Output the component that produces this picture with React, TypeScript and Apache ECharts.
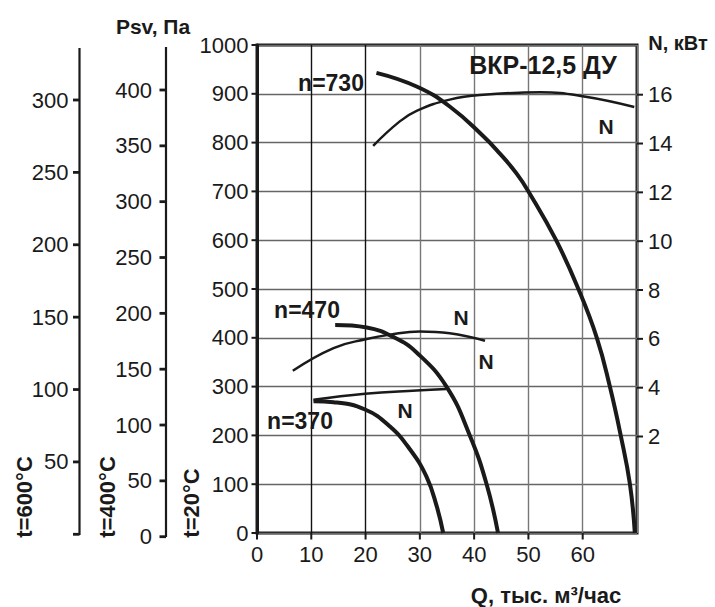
import React, { useEffect, useRef } from "react";
import * as echarts from "echarts";

const FONT = "'Liberation Sans', Arial, sans-serif";

// Axis ranges / tick values
const qMin = 0;
const qMax = 70;
const qTicks = [0, 10, 20, 30, 40, 50, 60];
const pTicks = [0, 100, 200, 300, 400, 500, 600, 700, 800, 900, 1000];
const t400Ticks = [0, 50, 100, 150, 200, 250, 300, 350, 400];
const t600Ticks = [0, 50, 100, 150, 200, 250, 300];
const nTicks = [2, 4, 6, 8, 10, 12, 14, 16];

// n=730 pressure curve
const n730Q = [22.0, 29.4, 35.5, 41.7, 44.7, 47.8, 50.0, 55.1, 59.2, 62.6, 65.0, 67.0, 68.7, 69.6];
const n730P = [943, 915, 874, 813, 778, 737, 700, 600, 500, 400, 300, 200, 100, 0];
// n=730 power curve
const n730NQ = [21.4, 26.3, 29.4, 35.5, 41.7, 52.2, 60.0, 69.5];
const n730N = [13.87, 14.87, 15.3, 15.76, 15.96, 16.06, 15.9, 15.46];

// n=470
const n470Q = [14.4, 20.2, 25.4, 29.4, 34.9, 39.2, 42.3, 44.4];
const n470P = [426, 421, 400, 370, 300, 200, 100, 0];
const n470NQ = [6.6, 14.1, 20.2, 24.5, 30.0, 35.5, 42.0];
const n470N = [4.65, 5.58, 5.95, 6.13, 6.26, 6.19, 5.88];

// n=370
const n370Q = [10.4, 14.1, 19.9, 24.5, 28.2, 31.2, 33.1, 34.3];
const n370P = [270, 268, 253, 218, 171, 116, 55, 0];
const n370NQ = [10.4, 19.9, 29.4, 34.9];
const n370N = [3.46, 3.71, 3.84, 3.9];

const zip = (a: number[], b: number[]) => a.map((v, i) => [v, b[i]]);

const INK = "#1a1a1a";

function lineSeries(data: number[][], yAxisIndex: number, width: number) {
  return {
    type: "line",
    data,
    xAxisIndex: 0,
    yAxisIndex,
    symbol: "none",
    smooth: 0.45,
    lineStyle: { color: INK, width, cap: "butt" },
    silent: true,
  };
}

function boldText(text: string, x: number, y: number, size: number, rotation = 0) {
  return {
    type: "text",
    x,
    y,
    rotation,
    style: {
      text,
      align: "center",
      verticalAlign: "middle",
      font: `bold ${size}px ${FONT}`,
      fill: INK,
    },
    z: 100,
  };
}

function seg(x1: number, y1: number, x2: number, y2: number, w: number) {
  return {
    type: "line",
    shape: { x1, y1, x2, y2 },
    style: { stroke: INK, lineWidth: w },
    z: 50,
  };
}

export default function App() {
  const ref = useRef<HTMLDivElement>(null);
  useEffect(() => {
    const chart = echarts.init(ref.current!, null, { renderer: "svg" });
    const labelStyle = { fontSize: 22, color: INK, fontFamily: FONT };
    const hidden = (gridIndex: number) => ({
      type: "value",
      gridIndex,
      min: 0,
      max: 1,
      show: false,
      splitLine: { show: false },
    });
    const labelAxis = (gridIndex: number, ticks: number[], interval: number, position: string, margin: number, hideZero = false) => ({
      type: "value",
      gridIndex,
      min: ticks[0],
      max: ticks[ticks.length - 1],
      interval,
      position,
      axisLine: { show: false },
      axisTick: { show: false },
      axisLabel: {
        ...labelStyle,
        margin,
        formatter: (v: number) => (hideZero && v === 0 ? "" : String(v)),
      },
      splitLine: { show: false },
    });
    const baseGraphics = [
      seg(166, 47, 166, 537, 2.2),
      seg(79.5, 48, 79.5, 535, 2.2),
      boldText("Psv, Па", 153, 26, 21),
      boldText("N, кВт", 678, 43, 20),
      boldText("ВКР-12,5 ДУ", 543, 65, 25),
      boldText("Q, тыс. м³/час", 546, 595, 22),
      boldText("n=730", 331, 83, 23),
      boldText("n=470", 307, 310, 23),
      boldText("n=370", 300, 421, 23),
      boldText("N", 606, 126, 21),
      boldText("N", 461, 317, 21),
      boldText("N", 486, 361, 21),
      boldText("N", 405, 410, 21),
      boldText("t=600°C", 24, 497, 22, Math.PI / 2),
      boldText("t=400°C", 107, 497, 22, Math.PI / 2),
      boldText("t=20°C", 191, 503, 22, Math.PI / 2),
    ];
    const option = {
      animation: false,
      backgroundColor: "#fff",
      grid: [
        // 0: main plot
        { left: 257, right: 78, top: 45, bottom: 74, show: true, borderColor: INK, borderWidth: 3 },
        // 1: t=400°C scale
        { left: 160, width: 6, top: 90, height: 446.7 },
        // 2: t=600°C scale
        { left: 73.5, width: 6, top: 100, height: 434.3 },
        // 3: N scale (right)
        { left: 638, width: 5, top: 94.7, height: 341.8 },
        // 4: Q scale (0..60)
        { left: 257, width: 325.7, top: 534.5, height: 5.5 },
        // 5: main Psv scale
        { left: 251.5, width: 5.5, top: 45, height: 488 },
      ],
      xAxis: [
        {
          type: "value",
          gridIndex: 0,
          min: qMin,
          max: qMax,
          interval: 10,
          axisLine: { show: false },
          axisTick: { show: false },
          axisLabel: { show: false },
          splitLine: {
            show: true,
            lineStyle: { color: ["#111", "#111", "#111", "#777", "#777", "#777", "#777", "#777"], width: 1.4 },
          },
        },
        hidden(1),
        hidden(2),
        hidden(3),
        labelAxis(4, qTicks, 10, "bottom", 3),
        hidden(5),
      ],
      yAxis: [
        {
          type: "value",
          gridIndex: 0,
          min: 0,
          max: 1000,
          interval: 100,
          position: "left",
          axisLine: { show: true, onZero: false, lineStyle: { color: INK, width: 3 } },
          axisTick: { show: false },
          axisLabel: { show: false },
          splitLine: { show: true, lineStyle: { color: "#666", width: 1.4 } },
        },
        {
          // N axis mapped onto the main plot: N = P/50 - 2
          type: "value",
          gridIndex: 0,
          min: -2,
          max: 18,
          interval: 2,
          position: "right",
          show: false,
          splitLine: { show: false },
        },
        labelAxis(1, t400Ticks, 50, "left", 8),
        labelAxis(2, t600Ticks, 50, "left", 5, true),
        labelAxis(3, nTicks, 2, "right", 5),
        hidden(4),
        labelAxis(5, pTicks, 100, "left", 3),
      ],
      series: [
        lineSeries(zip(n730Q, n730P), 0, 4),
        lineSeries(zip(n730NQ, n730N), 1, 2.5),
        lineSeries(zip(n470Q, n470P), 0, 4),
        lineSeries(zip(n470NQ, n470N), 1, 2.5),
        lineSeries(zip(n370Q, n370P), 0, 4),
        lineSeries(zip(n370NQ, n370N), 1, 2.5),
      ],
      graphic: baseGraphics,
    };
    chart.setOption(option as any);

    // Tick marks placed through the library's own axis scales
    const ticks: any[] = [];
    const yTicks = (axis: number, values: number[], x1: number, x2: number, w: number) => {
      values.forEach((v) => {
        const y = chart.convertToPixel({ yAxisIndex: axis } as any, v) as unknown as number;
        if (typeof y === "number" && isFinite(y)) ticks.push(seg(x1, y, x2, y, w));
      });
    };
    yTicks(2, t400Ticks, 159.5, 166, 2.8);
    yTicks(3, t600Ticks, 73, 79.5, 2.8);
    yTicks(4, nTicks, 637, 643, 2);
    yTicks(6, pTicks, 251.5, 257, 2);
    qTicks.forEach((v) => {
      const x = chart.convertToPixel({ xAxisIndex: 4 } as any, v) as unknown as number;
      if (typeof x === "number" && isFinite(x)) ticks.push(seg(x, 533, x, 539.5, 2));
    });
    chart.setOption({ graphic: [...baseGraphics, ...ticks] } as any);
    return () => chart.dispose();
  }, []);
  return (
    <div
      ref={ref}
      style={{ position: "absolute", left: 0, top: 0, width: 715, height: 607 }}
    />
  );
}
